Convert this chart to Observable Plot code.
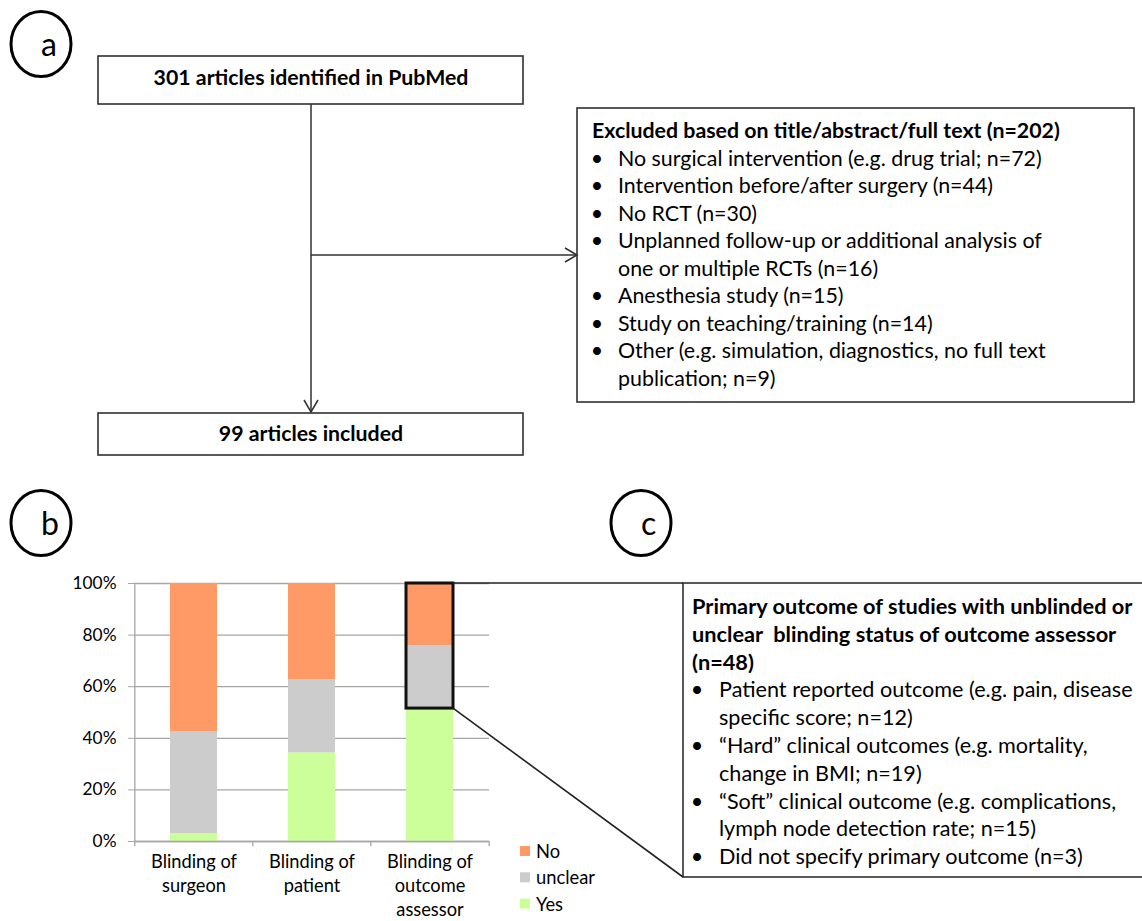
<!DOCTYPE html>
<html><head><meta charset="utf-8">
<script src="https://cdn.jsdelivr.net/npm/d3@7"></script>
<script src="https://cdn.jsdelivr.net/npm/@observablehq/plot@0.6"></script>
<style>
html,body{margin:0;padding:0;background:#fff;}
#root{position:relative;width:1142px;height:921px;overflow:hidden;font-family:Lato,sans-serif;background:#fff;}
#chart{position:absolute;left:0;top:560px;}
#overlay{position:absolute;left:0;top:0;pointer-events:none;}
#overlay text{white-space:pre;}
</style></head>
<body><div id="root"><div id="chart"></div><svg id="overlay" width="1142" height="921"></svg></div>
<script>
// ---------- data ----------
const categories = ["Blinding of surgeon", "Blinding of patient", "Blinding of outcome assessor"];
const xLabels = ["Blinding of\nsurgeon", "Blinding of\npatient", "Blinding of\noutcome\nassessor"];
const statuses = ["Yes", "unclear", "No"];
const yesCounts = [3, 34, 51];
const unclearCounts = [39, 28, 24];
const noCounts = [57, 37, 24];
const yTicks = [0, 0.2, 0.4, 0.6, 0.8, 1];
const statusColors = ["#CCFF99", "#CCCCCC", "#FF9966"];
const highlightCategory = "Blinding of outcome assessor";

const flowTop = "301 articles identified in PubMed";
const flowBottom = "99 articles included";
const excludedTitle = "Excluded based on title/abstract/full text (n=202)";
const excludedReasons = [
  ["No surgical intervention (e.g. drug trial; n=72)"],
  ["Intervention before/after surgery (n=44)"],
  ["No RCT (n=30)"],
  ["Unplanned follow-up or additional analysis of", "one or multiple RCTs (n=16)"],
  ["Anesthesia study (n=15)"],
  ["Study on teaching/training (n=14)"],
  ["Other (e.g. simulation, diagnostics, no full text", "publication; n=9)"]
];
const outcomeTitle = ["Primary outcome of studies with unblinded or", "unclear  blinding status of outcome assessor", "(n=48)"];
const outcomeTypes = [
  ["Patient reported outcome (e.g. pain, disease", "specific score; n=12)"],
  ["\u201CHard\u201D clinical outcomes (e.g. mortality,", "change in BMI; n=19)"],
  ["\u201CSoft\u201D clinical outcome (e.g. complications,", "lymph node detection rate; n=15)"],
  ["Did not specify primary outcome (n=3)"]
];
const panelLetters = ["a", "b", "c"];

// ---------- helpers ----------
const FAMILY = "Lato";
const ctx = document.createElement("canvas").getContext("2d");
function fit(text, target, weight = 400) {
  ctx.font = `${weight} 100px ${FAMILY}`;
  return 100 * target / ctx.measureText(text).width;
}
const fsFlow = fit(flowTop, 315, 700);
const fsExTitle = fit(excludedTitle, 468, 700);
const fsExBody = fit(excludedReasons[0][0], 424);
const fsCTitle = fit(outcomeTitle[0], 442, 700);
const fsCBody = fit(outcomeTypes[0][0], 414);
const fsChart = fit("Blinding of", 86);
const fsTick = fit("100%", 44);
const fsLegend = fit("unclear", 59);

// ---------- chart ----------
const rows = categories.flatMap((c, i) => [
  {category: c, status: "Yes", count: yesCounts[i]},
  {category: c, status: "unclear", count: unclearCounts[i]},
  {category: c, status: "No", count: noCounts[i]}
]);
const hi = categories.indexOf(highlightCategory);
const hiTotal = yesCounts[hi] + unclearCounts[hi] + noCounts[hi];
const highlight = [{category: highlightCategory, y1: yesCounts[hi] / hiTotal, y2: 1}];

const W = 499, ML = 134, MR = 10, MT = 23, MB = 80, H = 361;
const step = (W - ML - MR) / categories.length;
const axisGray = "#a6a6a6";

const chart = Plot.plot({
  width: W, height: H, marginLeft: ML, marginRight: MR, marginTop: MT, marginBottom: MB,
  style: {fontFamily: FAMILY, fontSize: fsChart + "px", color: "#000", background: "transparent", overflow: "visible"},
  x: {domain: categories, paddingInner: 0.6, paddingOuter: 0.3, axis: null, label: null},
  y: {domain: [0, 1], axis: null, label: null},
  color: {domain: statuses, range: statusColors},
  marks: [
    Plot.gridY(yTicks, {stroke: axisGray, strokeOpacity: 1, strokeWidth: 1.3}),
    Plot.barY(rows, Plot.stackY({offset: "normalize", order: statuses, x: "category", y: "count", fill: "status"})),
    Plot.barY(highlight, {x: "category", y1: "y1", y2: "y2", fill: "none", stroke: "#111", strokeWidth: 3}),
    Plot.ruleY([0], {stroke: axisGray, strokeWidth: 1.3}),
    Plot.ruleX([categories[0]], {x: d => d, dx: -step / 2, y1: 0, y2: 1, stroke: axisGray, strokeWidth: 1.3}),
    Plot.ruleX(categories, {x: d => d, dx: -step / 2, y1: 0, y2: -0.02, stroke: axisGray, strokeWidth: 1.3}),
    Plot.ruleX([categories[categories.length - 1]], {x: d => d, dx: step / 2, y1: 0, y2: -0.02, stroke: axisGray, strokeWidth: 1.3}),
    Plot.axisY(yTicks, {tickSize: 6, tickPadding: 12, stroke: axisGray, fill: "#000", fontSize: fsTick, label: null,
      tickFormat: d => `${Math.round(d * 100)}%`}),
    Plot.axisX({tickSize: 0, tickPadding: 9, fill: "#000", fontSize: fsChart, lineHeight: 1.32, label: null,
      tickFormat: d => xLabels[categories.indexOf(d)]})
  ]
});
document.getElementById("chart").appendChild(chart);

// ---------- overlay (flow chart, panels, box c, legend, connectors) ----------
const svg = d3.select("#overlay");
const ink = "#303030";
function box(x, y, w, h) {
  svg.append("rect").attr("x", x).attr("y", y).attr("width", w).attr("height", h)
    .attr("fill", "none").attr("stroke", ink).attr("stroke-width", 1.6);
}
function line(pts, sw = 1.5, col = ink) {
  svg.append("polyline").attr("points", pts.map(p => p.join(",")).join(" "))
    .attr("fill", "none").attr("stroke", col).attr("stroke-width", sw);
}
function text(x, y, s, size, weight = 400, anchor = "start") {
  svg.append("text").attr("x", x).attr("y", y).attr("dominant-baseline", "central")
    .attr("text-anchor", anchor).attr("font-family", FAMILY).attr("font-size", size)
    .attr("font-weight", weight).attr("fill", "#000").text(s);
}

// panel letters
const panelPos = [[41, 44], [41, 523], [641, 523]];
panelLetters.forEach((l, i) => {
  const [cx, cy] = panelPos[i];
  svg.append("ellipse").attr("cx", cx).attr("cy", cy).attr("rx", 30).attr("ry", 32.5)
    .attr("fill", "none").attr("stroke", "#000").attr("stroke-width", 3);
  text(cx, cy - 1, l, 32);
});

// flow chart
box(98, 56, 425, 48);
text(311, 77, flowTop, fsFlow, 700, "middle");
box(98, 413, 425, 42);
text(311, 433, flowBottom, fsFlow, 700, "middle");
line([[311, 104], [311, 412]]);
line([[304, 400], [311, 412], [318, 400]]);
line([[311, 255], [576, 255]]);
line([[565, 248], [577, 255], [565, 262]]);

box(577, 108, 557, 294);
const exLH = 27.55;
let yy = 130;
text(592, yy, excludedTitle, fsExTitle, 700);
excludedReasons.forEach(r => {
  r.forEach((ln, j) => {
    yy += exLH;
    if (j === 0) text(597, yy, "\u2022", fsExBody, 400, "middle");
    text(618, yy, ln, fsExBody);
  });
});

// box c and connectors from chart scales
const xs = chart.scale("x"), ys = chart.scale("y");
const offX = 0, offY = 560;
const barRight = offX + xs.apply(highlightCategory) + xs.bandwidth;
const yTop = offY + ys.apply(1);
const yBot = offY + ys.apply(highlight[0].y1);
const cLeft = 683, cBottom = 877;
box(cLeft, yTop, 1142 - cLeft + 20, cBottom - yTop);
line([[barRight, yTop], [cLeft, yTop]], 1.6, "#222");
line([[barRight, yBot], [cLeft, cBottom]], 1.6, "#222");

let cy2 = 606;
const cLH = 27.8;
outcomeTitle.forEach((ln, j) => {
  text(692, cy2, ln, fsCTitle, 700);
  cy2 += cLH;
});
outcomeTypes.forEach(r => {
  r.forEach((ln, j) => {
    if (j === 0) text(697, cy2, "\u2022", fsCBody, 400, "middle");
    text(719, cy2, ln, fsCBody);
    cy2 += cLH;
  });
});

// legend (top to bottom: No, unclear, Yes) from color scale
const col = chart.scale("color");
const legendOrder = [...statuses].reverse();
legendOrder.forEach((s, i) => {
  const y = 851 + i * 26.3;
  svg.append("rect").attr("x", 520).attr("y", y - 5).attr("width", 10).attr("height", 10)
    .attr("fill", col.apply(s));
  text(536, y, s, fsLegend);
});
</script></body></html>
